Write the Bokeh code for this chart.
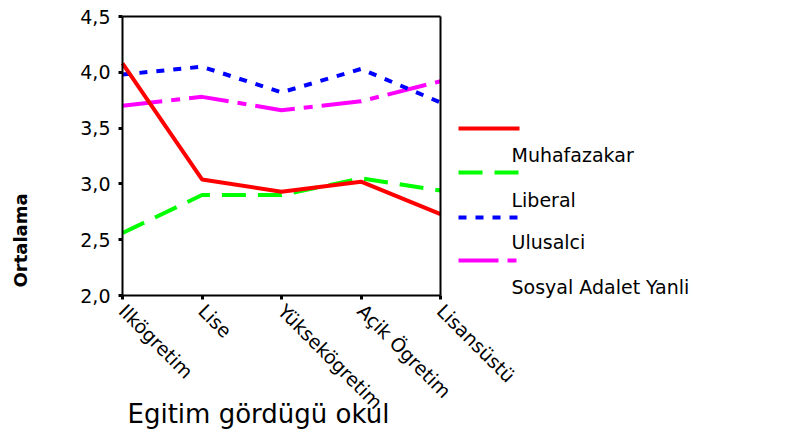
import math
from bokeh.plotting import figure
from bokeh.models import (Range1d, FixedTicker, LinearAxis, Label, Arrow,
                          CustomJSTickFormatter)
from bokeh.embed import file_html
from bokeh.resources import INLINE

# ---- data ----
categories = ["Ilkögretim", "Lise", "Yüksekögretim", "Açik Ögretim", "Lisansüstü"]
muhafazakar = [4.08, 3.04, 2.93, 3.02, 2.73]
liberal = [2.56, 2.90, 2.90, 3.05, 2.94]
ulusalci = [3.98, 4.05, 3.82, 4.03, 3.73]
sosyal = [3.70, 3.78, 3.66, 3.74, 3.92]
series_names = ["Muhafazakar", "Liberal", "Ulusalci", "Sosyal Adalet Yanli"]
y_ticks = [2.0, 2.5, 3.0, 3.5, 4.0, 4.5]
y_min, y_max = 2.0, 4.5
x_title = "Egitim gördügü okul"
y_title = "Ortalama"

FONT = "DejaVu Sans"
W, H = 789, 429
# plot box in canvas pixels (from top-left)
BOX_L, BOX_R, BOX_T, BOX_B = 122, 440, 16, 295
n = len(categories)
xs = list(range(n))
ppx = (BOX_R - BOX_L) / (n - 1)
ppy = (BOX_B - BOX_T) / (y_max - y_min)
x_start = -BOX_L / ppx
x_end = (n - 1) + (W - BOX_R) / ppx
y_start = y_min - (H - BOX_B) / ppy
y_end = y_max + BOX_T / ppy

p = figure(width=W, height=H, x_range=Range1d(x_start, x_end),
           y_range=Range1d(y_start, y_end),
           output_backend="svg", toolbar_location=None,
           min_border=0, min_border_left=0, min_border_right=0,
           min_border_top=0, min_border_bottom=0)
p.xgrid.visible = False
p.ygrid.visible = False
p.outline_line_color = None
p.background_fill_color = "white"
p.border_fill_color = "white"

# x axis (fixed at y = 2.0)
xa = p.xaxis[0]
xa.fixed_location = y_min
xa.ticker = FixedTicker(ticks=xs)
xa.formatter = CustomJSTickFormatter(args=dict(labels=categories),
                                     code="return labels[Math.round(tick)] || '';")
xa.bounds = (0, n - 1)
xa.major_label_orientation = -math.pi / 4
xa.axis_line_width = 2
xa.axis_line_color = "black"
xa.major_tick_out = 4
xa.major_tick_in = 0
xa.major_tick_line_width = 3
xa.minor_tick_out = 0
xa.minor_tick_in = 0
xa.major_label_text_font = FONT
xa.major_label_text_font_size = "19px"
xa.major_label_text_color = "black"
xa.major_label_standoff = 8

# y axis (fixed at x = 0)
ya = p.yaxis[0]
ya.fixed_location = 0
ya.ticker = FixedTicker(ticks=y_ticks)
ya.formatter = CustomJSTickFormatter(code="return tick.toFixed(1).replace('.', ',');")
ya.bounds = (y_min, y_max)
ya.axis_line_width = 2
ya.axis_line_color = "black"
ya.major_tick_out = 4
ya.major_tick_in = 0
ya.major_tick_line_width = 3
ya.minor_tick_out = 0
ya.minor_tick_in = 0
ya.major_label_text_font = FONT
ya.major_label_text_font_size = "19px"
ya.major_label_text_color = "black"
ya.major_label_standoff = 8

# top and right borders of the box
top_axis = LinearAxis(fixed_location=y_max, ticker=FixedTicker(ticks=[]), bounds=(0, n - 1),
                      axis_line_width=2, axis_line_color="black",
                      major_tick_out=0, major_tick_in=0, minor_tick_out=0, minor_tick_in=0,
                      major_label_text_font_size="0px")
p.add_layout(top_axis, "above")
right_axis = LinearAxis(fixed_location=n - 1, ticker=FixedTicker(ticks=[]), bounds=(y_min, y_max),
                        axis_line_width=2, axis_line_color="black",
                        major_tick_out=0, major_tick_in=0, minor_tick_out=0, minor_tick_in=0,
                        major_label_text_font_size="0px")
p.add_layout(right_axis, "right")

# series
colors = ["#FF0000", "#00FF00", "#0000FF", "#FF00FF"]
dashes = ["solid", "24 12", "8 9", "40 9 9 9"]
values = [muhafazakar, liberal, ulusalci, sosyal]
for vals, c, d in reversed(list(zip(values, colors, dashes))):
    p.line(xs, vals, line_color=c, line_width=4, line_dash=d)

# legend (manual: sample line above, label below), screen px from bottom-left
leg_x0, leg_x1, text_x = 458, 519, 511
sample_y = [H - 128, H - 172, H - 217, H - 260]
text_y = [H - 154, H - 199, H - 241, H - 286]
for name, c, d, sy, ty in zip(series_names, colors, dashes, sample_y, text_y):
    p.add_layout(Arrow(end=None, x_start=leg_x0, y_start=sy, x_end=leg_x1, y_end=sy,
                       start_units="screen", end_units="screen",
                       line_color=c, line_width=4, line_dash=d))
    p.add_layout(Label(x=text_x, y=ty, x_units="screen", y_units="screen", text=name,
                       text_font=FONT, text_font_size="19px", text_color="black",
                       text_baseline="middle"))

# axis titles
p.add_layout(Label(x=127, y=H - 413, x_units="screen", y_units="screen", text=x_title,
                   text_font=FONT, text_font_size="26px", text_color="black",
                   text_baseline="middle"))
p.add_layout(Label(x=20, y=H - 287, x_units="screen", y_units="screen", text=y_title,
                   angle=math.pi / 2, text_font=FONT, text_font_size="18px",
                   text_font_style="bold", text_color="black",
                   text_align="left", text_baseline="middle"))

open("out.html", "w").write(file_html(p, INLINE))
